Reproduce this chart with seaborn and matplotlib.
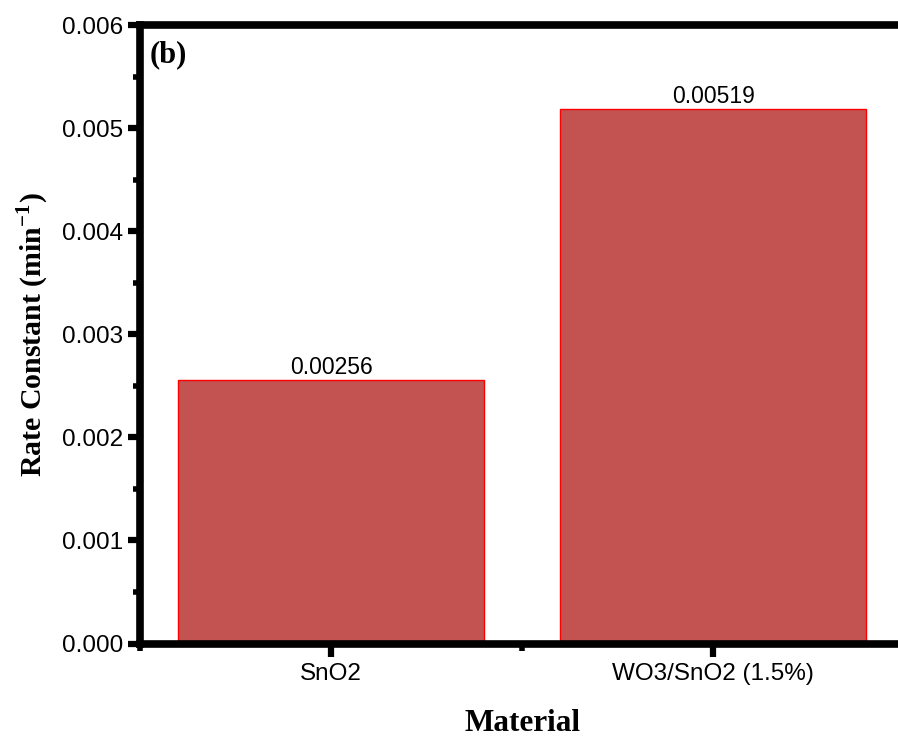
import matplotlib
matplotlib.use("Agg")
import matplotlib.pyplot as plt
import seaborn as sns
import pandas as pd
from matplotlib.ticker import MultipleLocator, FormatStrFormatter

# === DATA ===
materials = ["SnO2", "WO3/SnO2 (1.5%)"]
rate_constants = [0.00256, 0.00519]
bar_labels = ["0.00256", "0.00519"]

BAR_COLOR = "#C25350"
EDGE_COLOR = "#FF0000"
SERIF = ["Liberation Serif", "DejaVu Serif"]

df = pd.DataFrame({"Material": materials, "Rate": rate_constants})

sns.set_theme(style="white")
plt.rcParams["font.family"] = ["Liberation Sans", "DejaVu Sans"]
plt.rcParams["text.color"] = "black"
plt.rcParams["axes.labelcolor"] = "black"
plt.rcParams["xtick.color"] = "black"
plt.rcParams["ytick.color"] = "black"
plt.rcParams["mathtext.fontset"] = "custom"
plt.rcParams["mathtext.rm"] = "Liberation Serif:bold"
plt.rcParams["mathtext.bf"] = "Liberation Serif:bold"

fig = plt.figure(figsize=(8.98, 7.38), dpi=100)
ax = fig.add_axes([0.156, 0.128, 0.851, 0.838])

sns.barplot(data=df, x="Material", y="Rate", color=BAR_COLOR, width=0.8,
            edgecolor=EDGE_COLOR, linewidth=1.0, saturation=1, ax=ax)

for i, (v, lab) in enumerate(zip(rate_constants, bar_labels)):
    ax.text(i, v + 0.00001, lab, ha="center", va="bottom", fontsize=16.5)

ax.set_xlim(-0.5, 1.5)
ax.set_ylim(0, 0.006)
ax.yaxis.set_major_locator(MultipleLocator(0.001))
ax.yaxis.set_minor_locator(MultipleLocator(0.0005))
ax.xaxis.set_minor_locator(MultipleLocator(0.5))
ax.yaxis.set_major_formatter(FormatStrFormatter("%.3f"))

for side in ["left", "bottom", "top"]:
    ax.spines[side].set_linewidth(5.5)
    ax.spines[side].set_color("black")
ax.spines["right"].set_visible(False)

ax.tick_params(axis="both", which="major", direction="out", length=9, width=4.5,
               labelsize=17.5, left=True, bottom=True)
ax.tick_params(axis="both", which="minor", direction="out", length=5, width=4,
               left=True, bottom=True)
ax.tick_params(axis="x", which="minor", labelbottom=False)
ax.tick_params(axis="x", which="major", pad=5)
ax.tick_params(axis="y", which="major", pad=3)

ax.set_xlabel("Material", fontsize=22.5, fontweight="bold", family=SERIF, labelpad=17)
ax.set_ylabel("Rate Constant (min$^{\\mathregular{-1}}$)", fontsize=21.5,
              fontweight="bold", family=SERIF, labelpad=8)

ax.text(0.012, 0.975, "(b)", transform=ax.transAxes, ha="left", va="top",
        fontsize=22, fontweight="bold", family=SERIF)

fig.savefig("out.png", dpi=100)
